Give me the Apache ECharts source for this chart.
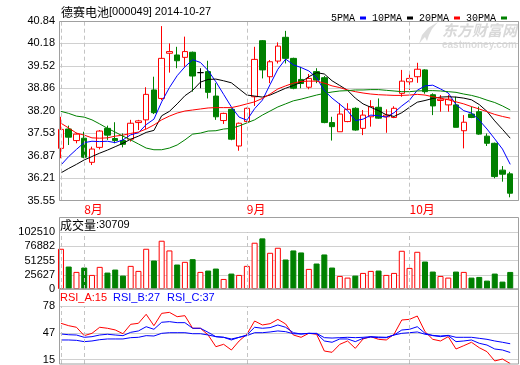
<!DOCTYPE html>
<html><head><meta charset="utf-8">
<script src="https://cdn.jsdelivr.net/npm/echarts@6/dist/echarts.min.js"></script>
<style>html,body{margin:0;padding:0;background:#fff}#c{width:520px;height:365px}</style>
</head><body><div id="c"></div>
<script>
const dates = ['2014-07-29','2014-07-30','2014-07-31',
'2014-08-01','2014-08-04','2014-08-05','2014-08-06','2014-08-07','2014-08-08','2014-08-11','2014-08-12','2014-08-13','2014-08-14','2014-08-15','2014-08-18','2014-08-19','2014-08-20','2014-08-21','2014-08-22','2014-08-25','2014-08-26','2014-08-27','2014-08-28','2014-08-29',
'2014-09-01','2014-09-02','2014-09-03','2014-09-04','2014-09-05','2014-09-09','2014-09-10','2014-09-11','2014-09-12','2014-09-15','2014-09-16','2014-09-17','2014-09-18','2014-09-19','2014-09-22','2014-09-23','2014-09-24','2014-09-25','2014-09-26','2014-09-29','2014-09-30',
'2014-10-08','2014-10-09','2014-10-10','2014-10-13','2014-10-14','2014-10-15','2014-10-16','2014-10-17','2014-10-20','2014-10-21','2014-10-22','2014-10-23','2014-10-24','2014-10-27'];
const openP  = [37.09,37.66,37.32,37.39,36.68,37.12,37.68,37.38,37.32,37.36,37.85,37.93,38.81,38.56,39.89,39.84,39.77,39.92,39.32,39.35,38.63,37.91,38.24,37.16,37.88,38.61,40.26,39.20,39.66,40.36,39.74,39.12,38.89,39.35,39.17,37.85,37.58,37.88,38.27,37.68,38.02,38.30,38.02,38.00,38.71,39.05,39.20,39.40,38.67,38.50,38.37,38.37,37.61,38.10,38.17,37.45,37.24,36.45,36.34];
const closeP = [37.65,37.42,37.51,36.83,37.07,37.60,37.48,37.32,37.21,37.83,37.90,38.68,38.14,39.74,39.94,39.67,39.94,39.22,39.32,38.74,38.02,38.12,37.36,37.83,38.27,39.71,39.40,39.64,40.10,39.74,38.86,39.00,39.15,39.10,37.85,37.73,38.10,38.24,37.63,38.07,38.32,37.98,38.07,38.27,39.07,39.15,39.42,38.76,38.34,38.54,38.54,37.71,37.86,38.00,37.51,37.24,36.26,36.33,35.77];
const lowP   = [36.80,37.19,37.24,36.80,36.60,37.06,37.34,37.24,37.12,37.29,37.63,37.66,38.10,38.51,39.32,39.45,39.49,38.76,38.86,38.56,37.93,37.81,37.33,37.02,37.86,38.34,39.15,39.01,39.59,39.59,38.83,38.86,38.83,39.01,37.83,37.32,37.58,37.86,37.61,37.48,37.73,37.96,37.55,37.98,38.61,38.81,39.02,38.70,38.07,38.17,38.17,37.71,37.09,37.98,37.49,37.16,36.21,36.11,35.65];
const highP  = [38.02,37.76,37.55,37.58,37.14,37.63,37.76,37.86,37.53,37.93,37.93,38.89,39.20,40.69,40.18,40.08,40.38,39.94,39.45,39.67,39.01,38.14,38.27,37.85,38.29,40.08,40.28,39.69,40.21,40.55,39.76,39.49,39.28,39.45,39.22,38.02,38.42,38.42,38.30,38.22,38.51,38.56,38.24,38.33,39.40,39.35,39.61,39.42,38.71,38.66,38.66,38.61,38.07,38.32,38.32,37.53,37.26,36.57,36.40];
const volume = [72360,40400,30750,38590,25330,39800,29550,34970,24120,41600,32560,72360,51250,86830,69350,44020,48840,53660,30750,33160,36780,18090,27740,25330,41600,83210,
91050,65120,74170,53060,69350,65730,36180,45830,62110,38590,23520,20500,24120,28940,32560,33160,25330,28940,68740,37990,66930,49450,31360,23520,20500,31360,30750,20500,21710,15070,27740,13270,30709];
const ma5  = [36.60,36.85,37.06,37.26,37.30,37.29,37.30,37.26,37.34,37.49,37.55,37.79,37.95,38.46,38.88,39.23,39.49,39.70,39.62,39.38,39.05,38.68,38.31,38.01,37.92,38.26,38.51,38.97,39.42,39.72,39.55,39.47,39.37,39.17,38.79,38.57,38.39,38.20,37.91,37.95,38.07,38.05,38.01,38.14,38.34,38.51,38.80,38.93,38.95,38.84,38.72,38.38,38.20,38.13,37.92,37.66,37.37,37.07,36.62];
const ma10 = [36.37,36.50,36.62,36.75,36.85,36.95,37.04,37.14,37.24,37.36,37.45,37.56,37.62,38.05,38.18,38.40,38.64,38.80,39.04,39.12,39.13,39.08,39.02,38.84,38.66,38.63,38.60,38.66,38.76,38.86,38.94,39.04,39.20,39.32,39.28,39.08,38.94,38.80,38.57,38.40,38.30,38.20,38.08,38.03,38.14,38.30,38.45,38.50,38.56,38.60,38.61,38.60,38.57,38.52,38.38,38.18,37.90,37.65,37.39];
const ma20 = [37.83,37.69,37.54,37.48,37.40,37.39,37.40,37.45,37.48,37.53,37.57,37.66,37.78,37.93,38.04,38.13,38.19,38.22,38.25,38.28,38.29,38.29,38.29,38.34,38.40,38.46,38.56,38.69,38.84,38.93,39.01,39.06,39.07,39.07,39.01,38.93,38.88,38.81,38.76,38.72,38.69,38.67,38.66,38.65,38.65,38.66,38.68,38.66,38.61,38.57,38.52,38.46,38.40,38.32,38.25,38.17,38.09,38.03,37.98];
const ma30 = [38.18,38.12,38.04,38.01,37.93,37.81,37.68,37.57,37.45,37.34,37.22,37.10,37.05,37.05,37.10,37.19,37.34,37.51,37.54,37.60,37.61,37.66,37.68,37.75,37.84,37.93,38.07,38.19,38.31,38.40,38.49,38.54,38.60,38.66,38.71,38.75,38.78,38.79,38.81,38.81,38.82,38.82,38.80,38.78,38.76,38.76,38.78,38.79,38.79,38.78,38.76,38.74,38.69,38.65,38.59,38.51,38.44,38.34,38.22];
const rsiA = [59.2,56.6,54.9,45.8,48.3,54.9,53.8,52.0,47.9,58.1,59.2,69.0,56.6,70.0,71.1,66.4,67.5,53.8,53.8,46.5,33.8,36.4,30.2,40.0,47.3,61.7,57.4,58.8,63.5,58.5,46.5,44.0,48.3,47.3,29.1,27.7,36.4,40.0,32.0,42.2,44.7,41.8,41.1,47.3,62.8,63.5,67.1,50.1,41.8,40.0,44.7,31.3,34.9,38.6,32.7,28.4,18.3,20.4,15.5];
const rsiB = [47.6,46.8,46.5,44.0,44.7,46.5,47.3,46.5,45.8,49.4,50.9,55.5,52.7,60.3,61.0,59.9,59.9,53.8,53.8,49.4,44.7,44.0,41.1,44.0,46.5,54.9,53.8,54.5,57.4,54.9,49.0,47.6,48.3,47.9,40.0,38.6,42.2,42.2,39.3,42.9,44.3,43.6,43.6,46.5,51.9,52.7,55.5,48.3,45.8,44.7,45.8,39.3,40.0,41.1,37.5,35.6,31.3,30.2,27.5];
const rsiC = [41.1,41.1,40.7,39.3,40.0,41.4,42.2,42.2,42.2,43.6,44.0,45.8,45.4,48.3,49.0,49.0,49.0,47.9,47.9,46.5,44.7,44.0,42.2,44.0,45.8,49.0,49.0,49.8,50.9,50.1,47.9,47.6,48.3,48.3,43.6,43.2,43.6,44.0,43.6,44.0,44.7,44.3,44.0,46.5,48.3,49.0,49.8,47.3,46.1,45.4,46.1,44.0,44.0,44.0,42.9,41.8,40.0,38.6,37.0];
const priceTicks = ['35.55','36.21','36.87','37.53','38.20','38.86','39.52','40.18','40.84'];
const volTicks = ['0','25627','51255','76882','102510'];
const rsiTicks = ['15','47','78'];
const monthLabels = {'2014-08-01':'8月','2014-09-01':'9月','2014-10-08':'10月'};
const dividerDates = ['2014-07-29','2014-08-01','2014-09-01','2014-10-08'];
const lastVolume = '30709';
const rsiLabels = ['RSI_A:15','RSI_B:27','RSI_C:37'];

const RED='#ff0000', GREEN='#008000', BLUE='#0000ff';
const NF = "'Liberation Sans', Arial, sans-serif";
const MF = "'Liberation Mono', 'DejaVu Sans Mono', monospace";
const CF = "'Noto Sans CJK SC', sans-serif";
const GRIDC = '#d0d0d0';

const chart = echarts.init(document.getElementById('c'), null, {renderer:'canvas'});
const L0 = 59, W0 = 460, LD = 57.1, WD = 457;
const P = {main:{top:21,h:179.7}, vol:{top:232,h:57}, rsi:{top:306,h:58}};

function frameAxis(gi, max, ticks){
  return {gridIndex:gi, type:'value', min:0, max:max, interval:1,
    axisLine:{show:false}, axisTick:{show:false},
    splitLine:{show:true, lineStyle:{color:GRIDC, width:1}},
    axisLabel:{color:'#000', fontSize:11, fontFamily:NF, margin:4, formatter:v=>ticks[v]}};
}
const divLine = {silent:true, symbol:['none','none'], label:{show:false},
  lineStyle:{type:[4,3], color:'#c4c4c4', width:1}, emphasis:{disabled:true},
  data: dividerDates.map(d=>({xAxis:d}))};

const candles = dates.map((d,i)=>[openP[i],closeP[i],lowP[i],highP[i]]);
const volData = volume.map((v,i)=>{
  const up = closeP[i] >= openP[i];
  return {value:v, itemStyle: up ? {color:'#ffffff', borderColor:RED, borderWidth:1} : {color:GREEN, borderColor:GREEN, borderWidth:1}};
});

const option = {
  animation:false,
  backgroundColor:'#ffffff',
  grid:[
    {left:L0, top:P.main.top, width:W0, height:P.main.h},
    {left:L0, top:P.vol.top, width:W0, height:P.vol.h},
    {left:L0, top:P.rsi.top, width:W0, height:P.rsi.h},
    {left:LD, top:P.main.top, width:WD, height:P.main.h},
    {left:LD, top:P.vol.top, width:WD, height:P.vol.h},
    {left:LD, top:P.rsi.top, width:WD, height:P.rsi.h}
  ],
  xAxis:[
    {gridIndex:0, type:'value', min:0, max:1, show:false},
    {gridIndex:1, type:'value', min:0, max:1, show:false},
    {gridIndex:2, type:'value', min:0, max:1, show:false},
    {gridIndex:3, type:'category', data:dates, boundaryGap:true,
      axisLine:{show:false}, axisTick:{show:false}, splitLine:{show:false},
      axisLabel:{show:true, color:RED, fontSize:12, fontFamily:CF, margin:3, align:'left',
        interval:(idx,val)=>monthLabels[val]!==undefined, formatter:(val)=>monthLabels[val]||''}},
    {gridIndex:4, type:'category', data:dates, show:false},
    {gridIndex:5, type:'category', data:dates, show:false}
  ],
  yAxis:[
    frameAxis(0, 8, priceTicks),
    frameAxis(1, 4, volTicks),
    frameAxis(2, 2, rsiTicks),
    {gridIndex:3, type:'value', min:35.55, max:40.84, show:false},
    {gridIndex:4, type:'value', min:0, max:102510, show:false},
    {gridIndex:5, type:'value', min:15, max:78, show:false}
  ],
  legend:{
    data:['5PMA','10PMA','20PMA','30PMA'], align:'right', right:8, top:8,
    itemWidth:6, itemHeight:3, itemGap:6, icon:'rect',
    textStyle:{color:'#000', fontSize:10, fontFamily:MF}
  },
  graphic:[
    {type:'rect', shape:{x:59.5,y:21.5,width:459,height:179}, style:{fill:'none', stroke:'#a0a0a0', lineWidth:1}, z:100, silent:true},
    {type:'rect', shape:{x:59.5,y:217.5,width:459,height:71.5}, style:{fill:'none', stroke:'#a0a0a0', lineWidth:1}, z:100, silent:true},
    {type:'rect', shape:{x:59.5,y:289,width:459,height:75}, style:{fill:'none', stroke:'#a0a0a0', lineWidth:1}, z:100, silent:true},
    {type:'text', left:61, top:6, style:{text:'{c|德赛电池}{n|[000049] 2014-10-27}',
      rich:{c:{fontSize:12, fontFamily:CF, fill:'#000'}, n:{fontSize:11, fontFamily:NF, fill:'#000'}}}},
    {type:'text', left:60, top:219, style:{text:'{c|成交量}{n|:'+lastVolume+'}',
      rich:{c:{fontSize:12, fontFamily:CF, fill:'#000'}, n:{fontSize:11, fontFamily:NF, fill:'#000'}}}},
    {type:'text', left:60, top:292, style:{text:rsiLabels[0], fontSize:11, fontFamily:NF, fill:RED}},
    {type:'text', left:113, top:292, style:{text:rsiLabels[1], fontSize:11, fontFamily:NF, fill:BLUE}},
    {type:'text', left:167, top:292, style:{text:rsiLabels[2], fontSize:11, fontFamily:NF, fill:BLUE}},
    {type:'polygon', z:-1, silent:true, shape:{points:[[419,44],[422,35],[428,28],[438,22],[432,29],[429,35],[427,41],[425,37],[422,40]]}, style:{fill:'#dcdcdc'}},
    {type:'text', left:442, top:23, z:-1, style:{text:'东方财富网', fontSize:15, fontWeight:'bold', fontStyle:'italic', fontFamily:CF, fill:'#d8d8d8'}},
    {type:'text', left:442, top:40, z:-1, style:{text:'eastmoney.com', fontSize:10, fontWeight:'bold', fontFamily:NF, fill:'#dcdcdc'}}
  ],
  series:[
    {type:'candlestick', name:'K', xAxisIndex:3, yAxisIndex:3, data:candles, barWidth:6,
      itemStyle:{color:'#ffffff', color0:GREEN, borderColor:RED, borderColor0:GREEN, borderColorDoji:'#000000', borderWidth:1},
      markLine:divLine, z:3},
    {type:'line', name:'5PMA', xAxisIndex:3, yAxisIndex:3, data:ma5, symbol:'none', lineStyle:{color:BLUE,width:1}, itemStyle:{color:BLUE}, z:4},
    {type:'line', name:'10PMA', xAxisIndex:3, yAxisIndex:3, data:ma10, symbol:'none', lineStyle:{color:'#000',width:1}, itemStyle:{color:'#000'}, z:4},
    {type:'line', name:'20PMA', xAxisIndex:3, yAxisIndex:3, data:ma20, symbol:'none', lineStyle:{color:RED,width:1}, itemStyle:{color:RED}, z:4},
    {type:'line', name:'30PMA', xAxisIndex:3, yAxisIndex:3, data:ma30, symbol:'none', lineStyle:{color:GREEN,width:1}, itemStyle:{color:GREEN}, z:4},
    {type:'bar', name:'VOL', xAxisIndex:4, yAxisIndex:4, data:volData, barWidth:6, markLine:divLine},
    {type:'line', name:'RSI_A', xAxisIndex:5, yAxisIndex:5, data:rsiA, symbol:'none', lineStyle:{color:RED,width:1}, markLine:divLine},
    {type:'line', name:'RSI_B', xAxisIndex:5, yAxisIndex:5, data:rsiB, symbol:'none', lineStyle:{color:BLUE,width:1}},
    {type:'line', name:'RSI_C', xAxisIndex:5, yAxisIndex:5, data:rsiC, symbol:'none', lineStyle:{color:BLUE,width:1}}
  ]
};
chart.setOption(option);
</script></body></html>
